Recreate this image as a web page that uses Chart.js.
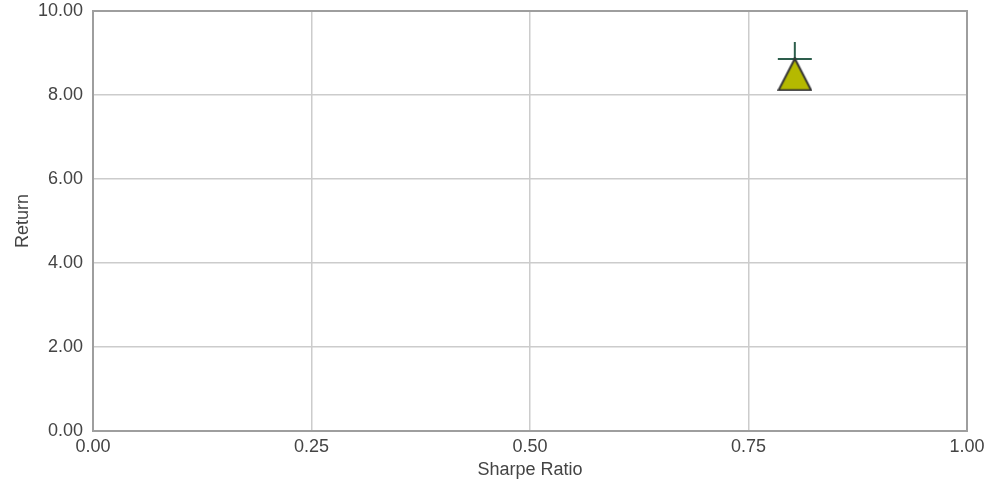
<!DOCTYPE html>
<html>
<head>
<meta charset="utf-8">
<script src="https://cdn.jsdelivr.net/npm/chart.js@4/dist/chart.umd.min.js"></script>
<style>
html,body{margin:0;padding:0;background:#fff;}
#wrap{width:1005px;height:485px;position:relative;}
</style>
</head>
<body>
<div id="wrap"><canvas id="c" width="1005" height="485"></canvas></div>
<script>
const xTicks = [0, 0.25, 0.5, 0.75, 1.0];
const yTicks = [0, 2, 4, 6, 8, 10];
const crossPoint = [{x: 0.803, y: 8.86}];
const trianglePoint = [{x: 0.803, y: 8.49}];

function triangleImage(w, h, fill, stroke) {
  const c = document.createElement('canvas');
  c.width = w; c.height = h;
  const g = c.getContext('2d');
  g.beginPath();
  g.moveTo(w / 2, 1.2);
  g.lineTo(w - 1.2, h - 1.2);
  g.lineTo(1.2, h - 1.2);
  g.closePath();
  g.fillStyle = fill;
  g.fill();
  g.lineWidth = 2;
  g.lineJoin = 'miter';
  g.strokeStyle = stroke;
  g.stroke();
  return c;
}
const triImg = triangleImage(35, 34, '#b5b900', '#333333');

const frame = {
  id: 'frame',
  afterDraw(chart) {
    const a = chart.chartArea, ctx = chart.ctx;
    ctx.save();
    ctx.strokeStyle = '#9e9e9e';
    ctx.lineWidth = 2;
    ctx.strokeRect(a.left, a.top, a.right - a.left, a.bottom - a.top);
    ctx.restore();
  }
};

const font = {family: 'Liberation Sans, Arial, sans-serif', size: 18};

new Chart(document.getElementById('c'), {
  type: 'scatter',
  data: {
    datasets: [
      {
        label: 'triangle',
        data: trianglePoint,
        pointStyle: triImg,
        order: 0
      },
      {
        label: 'cross',
        data: crossPoint,
        pointStyle: 'cross',
        pointRadius: 17,
        borderColor: '#2d5e4c',
        borderWidth: 2,
        order: 1
      }
    ]
  },
  options: {
    responsive: false,
    animation: false,
    layout: {autoPadding: false, padding: {top: 11, right: 38, left: 0, bottom: 0}},
    plugins: {legend: {display: false}, tooltip: {enabled: false}},
    scales: {
      x: {
        type: 'linear',
        min: 0, max: 1,
        afterBuildTicks(s) { s.ticks = xTicks.map(v => ({value: v})); },
        afterFit(s) { s.height = 54; s.paddingLeft = 0; s.paddingRight = 0; },
        ticks: {color: '#444', font, padding: 5, maxRotation: 0,
          callback: v => Number(v).toFixed(2)},
        grid: {color: '#cccccc', lineWidth: 1.5, drawTicks: false},
        border: {color: '#9e9e9e', width: 2},
        title: {display: true, text: 'Sharpe Ratio', color: '#444', font, padding: {top: 3, bottom: 4}}
      },
      y: {
        type: 'linear',
        min: 0, max: 10,
        afterBuildTicks(s) { s.ticks = yTicks.map(v => ({value: v})); },
        afterFit(s) { s.width = 93; s.paddingTop = 0; s.paddingBottom = 0; },
        ticks: {color: '#444', font, padding: 10,
          callback: v => Number(v).toFixed(2)},
        grid: {color: '#cccccc', lineWidth: 1.5, drawTicks: false},
        border: {color: '#9e9e9e', width: 2},
        title: {display: true, text: 'Return', color: '#444', font, padding: {top: 12, bottom: 6}}
      }
    }
  },
  plugins: [frame]
});
</script>
</body>
</html>
